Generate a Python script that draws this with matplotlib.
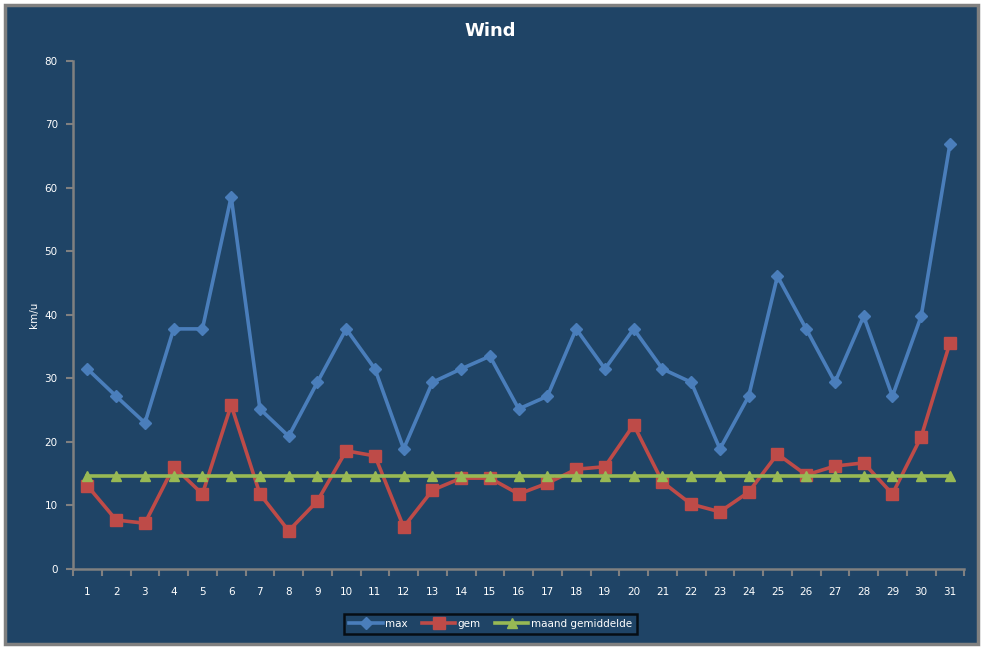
import matplotlib.pyplot as plt
from matplotlib.patches import Rectangle
import numpy as np

# Daily wind values (km/u)
days = list(range(1, 32))
max_wind = [31.5, 27.2, 23.0, 37.8, 37.8, 58.6, 25.2, 20.9, 29.4, 37.8,
            31.5, 18.9, 29.4, 31.5, 33.5, 25.2, 27.2, 37.8, 31.5, 37.8,
            31.5, 29.4, 18.9, 27.2, 46.1, 37.8, 29.4, 39.8, 27.2, 39.8, 66.9]
gem_wind = [13.1, 7.7, 7.2, 16.1, 11.8, 25.8, 11.8, 6.0, 10.7, 18.6,
            17.8, 6.6, 12.4, 14.3, 14.3, 11.8, 13.5, 15.7, 16.1, 22.7,
            13.7, 10.2, 9.0, 12.1, 18.1, 14.8, 16.2, 16.7, 11.8, 20.8, 35.6]
maand_gem = [14.6] * 31

bg = '#1F4466'
axis_grey = '#808080'

fig = plt.figure(figsize=(9.87, 6.48), dpi=100, facecolor='white')

# Chart area with grey border, white outside
fig.patches.append(Rectangle((5 / 987, 4 / 648), 973 / 987, 639 / 648, transform=fig.transFigure,
                             facecolor=bg, edgecolor=axis_grey, linewidth=2.5, zorder=-10))

ax = fig.add_axes([0.074, 0.122, 0.903, 0.784], facecolor=bg)

ax.plot(days, max_wind, color='#4A7EBB', lw=2.6, marker='D', ms=6.5, label='max')
ax.plot(days, gem_wind, color='#BE4B48', lw=2.6, marker='s', ms=8, label='gem')
ax.plot(days, maand_gem, color='#98B954', lw=2.6, marker='^', ms=7, label='maand gemiddelde')

ax.set_xlim(0.5, 31.5)
ax.set_ylim(0, 80)
ax.set_yticks(range(0, 81, 10))
ax.set_xticks(days)
ax.set_xticks(np.arange(0.5, 32, 1), minor=True)
ax.tick_params(axis='x', which='major', length=0, pad=13, labelsize=7.5, colors='white')
ax.tick_params(axis='x', which='minor', length=5, width=1.5, color=axis_grey, direction='out')
ax.tick_params(axis='y', length=5, width=1.5, color=axis_grey, labelsize=7.5,
               labelcolor='white', pad=6)

for s in ['top', 'right']:
    ax.spines[s].set_visible(False)
for s in ['left', 'bottom']:
    ax.spines[s].set_color(axis_grey)
    ax.spines[s].set_linewidth(1.8)

ax.set_ylabel('km/u', color='white', fontsize=7.5, labelpad=4)
fig.text(0.497, 0.952, 'Wind', color='white', fontsize=13, fontweight='bold',
         ha='center', va='center')

leg = fig.legend(loc='center', bbox_to_anchor=(0.497, 0.037), ncol=3, frameon=True,
                 fontsize=7.5, labelcolor='white', handlelength=3.2, handletextpad=0.2,
                 columnspacing=1.4, borderpad=0.5, fancybox=False)
leg.get_frame().set_facecolor(bg)
leg.get_frame().set_edgecolor('black')
leg.get_frame().set_linewidth(1.8)

fig.savefig('out.png', dpi=100, facecolor='white')
